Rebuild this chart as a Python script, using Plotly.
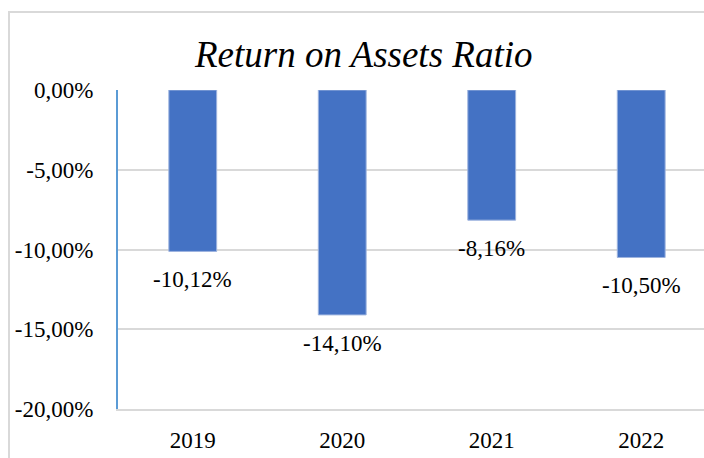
import plotly.graph_objects as go

years = ["2019", "2020", "2021", "2022"]
roa = [-10.12, -14.10, -8.16, -10.50]
labels = ["-10,12%", "-14,10%", "-8,16%", "-10,50%"]
tick_vals = [0, -5, -10, -15, -20]
tick_text = ["0,00%", "-5,00%", "-10,00%", "-15,00%", "-20,00%"]

FONT = "Liberation Serif"

fig = go.Figure()
fig.add_trace(go.Bar(
    x=list(range(len(years))), y=roa, width=0.32,
    marker=dict(color="#4472C4", line=dict(color="#9DB3DE", width=1)),
    hoverinfo="skip",
))

for i, (v, t) in enumerate(zip(roa, labels)):
    fig.add_annotation(x=i, y=v, text=t, showarrow=False, yanchor="top",
                       yshift=-14, font=dict(family=FONT, size=23, color="#000"))

fig.add_annotation(xref="paper", yref="paper", x=(363 - 118) / 586, y=1 + (90 - 55) / 319,
                   text="<i>Return on Assets Ratio</i>", showarrow=False,
                   font=dict(family=FONT, size=37, color="#000"),
                   xanchor="center", yanchor="middle")

fig.add_shape(type="rect", xref="paper", yref="paper",
              x0=(9 - 118) / 586, x1=1.2, y0=-0.5, y1=1 + (90 - 12) / 319,
              line=dict(color="#D9D9D9", width=2), fillcolor="rgba(0,0,0,0)", layer="below")

fig.update_layout(
    width=704, height=458,
    margin=dict(l=118, r=0, t=90, b=49),
    paper_bgcolor="white", plot_bgcolor="white",
    showlegend=False,
    xaxis=dict(range=[-0.5, 3.42], tickvals=list(range(len(years))), ticktext=years,
               showgrid=False, zeroline=False, showline=True, linecolor="#D9D9D9", linewidth=2,
               ticks="", ticklabelstandoff=9,
               tickfont=dict(family=FONT, size=23, color="#000"), fixedrange=True),
    yaxis=dict(range=[-20, 0], tickvals=tick_vals, ticktext=tick_text,
               showgrid=True, gridcolor="#D9D9D9", gridwidth=2,
               zeroline=False, showline=True, linecolor="#5B9BD5", linewidth=2,
               ticks="", ticklabelstandoff=18,
               tickfont=dict(family=FONT, size=23, color="#000"), fixedrange=True),
)

fig.write_html("out.html", config={"displayModeBar": False},
               post_script="document.body.style.margin='0';document.body.style.overflow='hidden';")
